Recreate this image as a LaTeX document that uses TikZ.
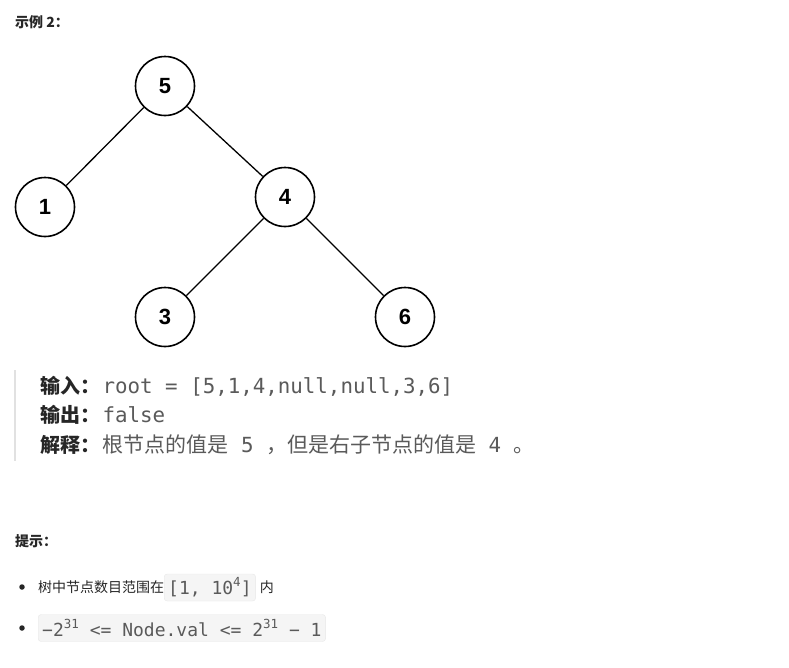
\documentclass[tikz,border=0pt]{standalone}
\usepackage{fontspec}
\usepackage{xcolor}
\usetikzlibrary{positioning}
\setmainfont{Liberation Sans}
\setmonofont{DejaVu Sans Mono}
\newfontfamily\cjk{Noto Sans CJK SC}
\definecolor{inkDark}{RGB}{38,38,38}
\definecolor{codeGray}{RGB}{90,90,90}
\definecolor{quoteBar}{RGB}{225,225,225}
\definecolor{codeFill}{RGB}{245,245,245}
\definecolor{codeLine}{RGB}{232,232,232}
\tikzset{
  treenode/.style={circle, draw=black, line width=1.6pt, minimum size=59pt,
    inner sep=0pt, font=\fontsize{22}{26}\selectfont\bfseries},
  treeedge/.style={line width=1.3pt, black},
  heading/.style={anchor=base west, inner sep=0pt, text=inkDark,
    font=\fontsize{14}{16}\selectfont\cjk\bfseries},
  keyword/.style={anchor=base west, inner sep=0pt, text=inkDark,
    font=\fontsize{20}{24}\selectfont\cjk\bfseries},
  codetext/.style={anchor=base west, inner sep=0pt, text=codeGray,
    font=\fontsize{20.8}{24}\selectfont\ttfamily},
  smalltext/.style={anchor=base west, inner sep=0pt, text=inkDark,
    font=\fontsize{14}{16}\selectfont\cjk},
  codebox/.style={rounded corners=3pt, fill=codeFill, draw=codeLine,
    inner xsep=4pt, minimum height=27pt, text=codeGray,
    font=\fontsize{18}{20}\selectfont\ttfamily},
  bulletdot/.style={circle, fill=inkDark, minimum size=5.5pt, inner sep=0pt}
}
\newcommand{\supnum}[1]{\raisebox{0.45em}{\fontsize{12.5}{13}\selectfont #1}}
\newcommand{\cjkline}[1]{{\cjk\fontsize{21}{24}\selectfont #1}}
\begin{document}
\begin{tikzpicture}[x=1pt,y=-1pt]
\useasboundingbox[fill=white] (0,0) rectangle (789,667);

\node[heading] (title) at (15,27) {示例 2：};

% tree
\node[treenode] (n5) at (165,86) {5};
\node[treenode] (n1) at (45,207) {1};
\node[treenode] (n4) at (285,197) {4};
\node[treenode] (n3) at (165,317) {3};
\node[treenode] (n6) at (405,317) {6};
\draw[treeedge] (n5) -- (n1);
\draw[treeedge] (n5) -- (n4);
\draw[treeedge] (n4) -- (n3);
\draw[treeedge] (n4) -- (n6);

% example block
\coordinate (barTop) at (15,370);
\coordinate (barBot) at (15,461);
\draw[quoteBar, line width=2pt] (barTop) -- (barBot);
\node[keyword] (inpKey) at (40,393) {输入：};
\node[codetext, right=2pt of inpKey.base east, anchor=base west] (inp) {root = [5,1,4,null,null,3,6]};
\node[keyword] (outKey) at (40,422) {输出：};
\node[codetext, right=2pt of outKey.base east, anchor=base west] (outp) {false};
\node[keyword] (expKey) at (40,452) {解释：};
\node[codetext, right=2pt of expKey.base east, anchor=base west] (expl)
  {\cjkline{根节点的值是} 5 \cjkline{，但是右子节点的值是} 4 \cjkline{。}};

% hints
\node[heading] (hint) at (15,546) {提示：};
\node[bulletdot] (dotA) at (22,587) {};
\node[smalltext] (tipA) at (38,592.5) {树中节点数目范围在};
\node[codebox, anchor=west] (boxA) at (164,587.5) {[1, 10\supnum{4}]};
\node[smalltext, right=4pt of boxA.east, anchor=west] (tipAend) {内};
\node[bulletdot] (dotB) at (22,628) {};
\node[codebox, anchor=west] (boxB) at (38,628) {−2\supnum{31} <= Node.val <= 2\supnum{31} − 1};
\end{tikzpicture}
\end{document}
